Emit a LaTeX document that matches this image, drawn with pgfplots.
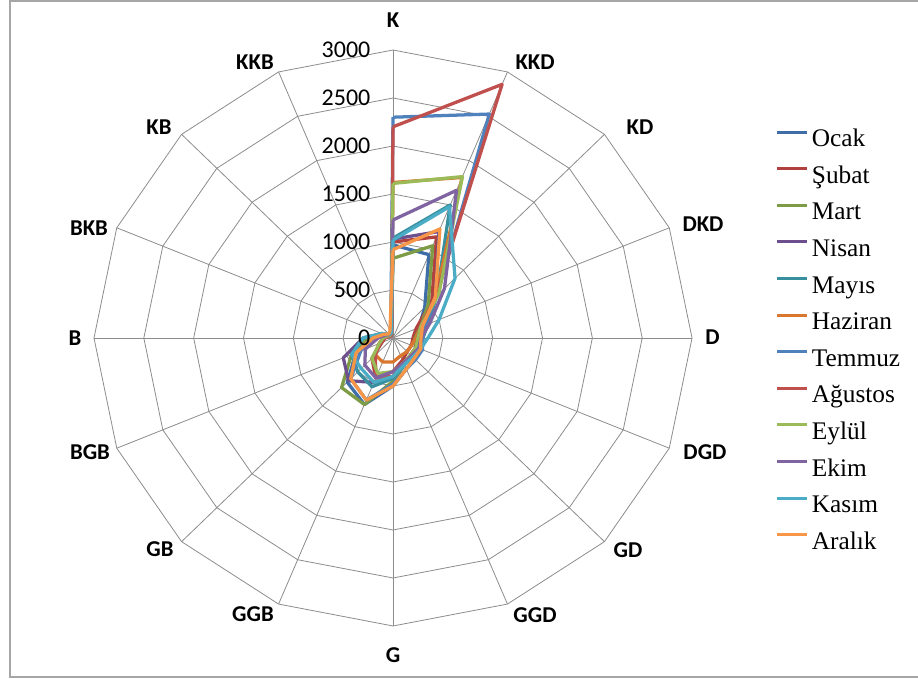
\documentclass[border=0pt]{standalone}
\usepackage{pgfplots}
\pgfplotsset{compat=1.18}
\usepackage{pgfplotstable}
\usepackage{fontspec}
\setmainfont{Liberation Serif}
\newfontfamily\calibri{Carlito}

\definecolor{c1}{HTML}{3E6DA8}
\definecolor{c2}{HTML}{B0413E}
\definecolor{c3}{HTML}{7E9B45}
\definecolor{c4}{HTML}{6C4F8C}
\definecolor{c5}{HTML}{38909F}
\definecolor{c6}{HTML}{D9772F}
\definecolor{c7}{HTML}{4F81BD}
\definecolor{c8}{HTML}{C0504D}
\definecolor{c9}{HTML}{9BBB59}
\definecolor{c10}{HTML}{8064A2}
\definecolor{c11}{HTML}{4BACC6}
\definecolor{c12}{HTML}{F79646}
\definecolor{gridc}{HTML}{8C8C8C}
\definecolor{framec}{HTML}{A6A6A6}

% angle: K=90, clockwise KKD, KD, DKD, D, DGD, GD, GGD, G, GGB, GB, BGB, B, BKB, KB, KKB, K
\pgfplotstableread{
ang    Ocak Subat Mart Nisan Mayis Haziran Temmuz Agustos Eylul Ekim Kasim Aralik
90     970  1000  830  1030  1040  1620    2300   2200    1610  1230 1020  920
67.5   940  1140  1040 1200  1500  1810    2525   2860    1820  1665 1480  1230
45     450  550   500  600   620   600     620    600     650   730  880   600
22.5   280  250   300  330   380   300     350    300     300   400  500   320
0      250  200   220  250   300   230     300    250     250   280  350   280
-22.5  300  200   250  250   300   200     320    250     250   280  300   300
-45    300  200   250  250   280   200     320    250     250   260  280   300
-67.5  350  250   300  300   300   200     350    280     280   280  300   350
-90    500  350   450  400   420   250     480    400     350   350  400   500
-112.5 750  450   750  500   550   270     700    450     400   450  500   700
-135   650  300   730  630   500   250     600    250     300   400  450   600
-157.5 400  120   450  540   450   150     350    150     150   300  450   400
180    250  80    250  300   300   100     200    80      100   150  300   200
157.5  100  50    100  120   120   60      100    50      60    80   120   100
135    60   30    60   60    60    40      50     30      40    50   60    60
112.5  50   40    50   50    50    50      60     40      50    50   50    80
90     970  1000  830  1030  1040  1620    2300   2200    1610  1230 1020  920
}\radardata

\begin{document}
\begin{tikzpicture}
\begin{axis}[
  scale only axis, width=688.5pt, height=509.25pt,
  xmin=-3943, xmax=5267, ymin=-3552, ymax=3521,
  hide axis, clip=false,
  legend cell align=left,
  legend image code/.code={\draw[#1, line width=2.2pt] (0pt,6.5pt) -- (22.5pt,6.5pt);},
  legend style={draw=none, fill=none, inner sep=0pt, outer sep=0pt,
    at={(0.8453,0.8094)}, anchor=north west,
    nodes={inner sep=0pt, text height=13pt, text depth=4pt},
    column sep=2.25pt, row sep=10.45pt,
    font=\fontsize{19}{22}\selectfont},
  every axis plot/.append style={line width=2.45pt, line join=round},
]
% grid rings
\pgfplotsinvokeforeach{500,1000,1500,2000,2500,3000}{
  \addplot[gridc, line width=0.6pt, forget plot, data cs=polar] coordinates {(90,#1)(67.5,#1)(45,#1)(22.5,#1)(0,#1)(-22.5,#1)(-45,#1)(-67.5,#1)(-90,#1)(-112.5,#1)(-135,#1)(-157.5,#1)(180,#1)(157.5,#1)(135,#1)(112.5,#1)(90,#1)};
}
% spokes
\pgfplotsinvokeforeach{0,22.5,45,67.5,90,112.5,135,157.5,180,202.5,225,247.5,270,292.5,315,337.5}{
  \addplot[gridc, line width=0.6pt, forget plot, data cs=polar] coordinates {(#1,0)(#1,3000)};
}
\addplot[c1, data cs=polar] table[x=ang, y=Ocak]{\radardata};
\addlegendentry{Ocak}
\addplot[c2, data cs=polar] table[x=ang, y=Subat]{\radardata};
\addlegendentry{Şubat}
\addplot[c3, data cs=polar] table[x=ang, y=Mart]{\radardata};
\addlegendentry{Mart}
\addplot[c4, data cs=polar] table[x=ang, y=Nisan]{\radardata};
\addlegendentry{Nisan}
\addplot[c5, data cs=polar] table[x=ang, y=Mayis]{\radardata};
\addlegendentry{Mayıs}
\addplot[c6, data cs=polar] table[x=ang, y=Haziran]{\radardata};
\addlegendentry{Haziran}
\addplot[c7, data cs=polar] table[x=ang, y=Temmuz]{\radardata};
\addlegendentry{Temmuz}
\addplot[c8, data cs=polar] table[x=ang, y=Agustos]{\radardata};
\addlegendentry{Ağustos}
\addplot[c9, data cs=polar] table[x=ang, y=Eylul]{\radardata};
\addlegendentry{Eylül}
\addplot[c10, data cs=polar] table[x=ang, y=Ekim]{\radardata};
\addlegendentry{Ekim}
\addplot[c11, data cs=polar] table[x=ang, y=Kasim]{\radardata};
\addlegendentry{Kasım}
\addplot[c12, data cs=polar] table[x=ang, y=Aralik]{\radardata};
\addlegendentry{Aralık}

% radial tick labels
\pgfplotsinvokeforeach{0,500,1000,1500,2000,2500,3000}{
  \node[anchor=east, inner sep=0pt, font=\calibri\fontsize{18}{18}\selectfont] at (axis cs:-225,#1) {#1};
}
% category labels
\begin{scope}[every node/.style={font=\calibri\bfseries\fontsize{17}{17}\selectfont, inner sep=0pt}]
\node at (axis cs:0,3313) {K};
\node at (axis cs:1425,2875) {KKD};
\node at (axis cs:2478,2198) {KD};
\node at (axis cs:3110,1188) {DKD};
\node at (axis cs:3206,10) {D};
\node at (axis cs:3130,-1188) {DGD};
\node at (axis cs:2358,-2208) {GD};
\node at (axis cs:1425,-2885) {GGD};
\node at (axis cs:0,-3302) {G};
\node at (axis cs:-1405,-2875) {GGB};
\node at (axis cs:-2338,-2198) {GB};
\node at (axis cs:-3040,-1188) {BGB};
\node at (axis cs:-3190,0) {B};
\node at (axis cs:-3050,1146) {BKB};
\node at (axis cs:-2348,2198) {KB};
\node at (axis cs:-1385,2875) {KKB};
\end{scope}
% chart frame
\draw[framec, line width=1.5pt] (axis cs:5267,3510) -- (axis cs:-3847,3510) -- (axis cs:-3847,-3531) -- (axis cs:5267,-3531);
\end{axis}
\pgfresetboundingbox
\useasboundingbox (current axis.south west) rectangle (current axis.north east);
\end{tikzpicture}
\end{document}
